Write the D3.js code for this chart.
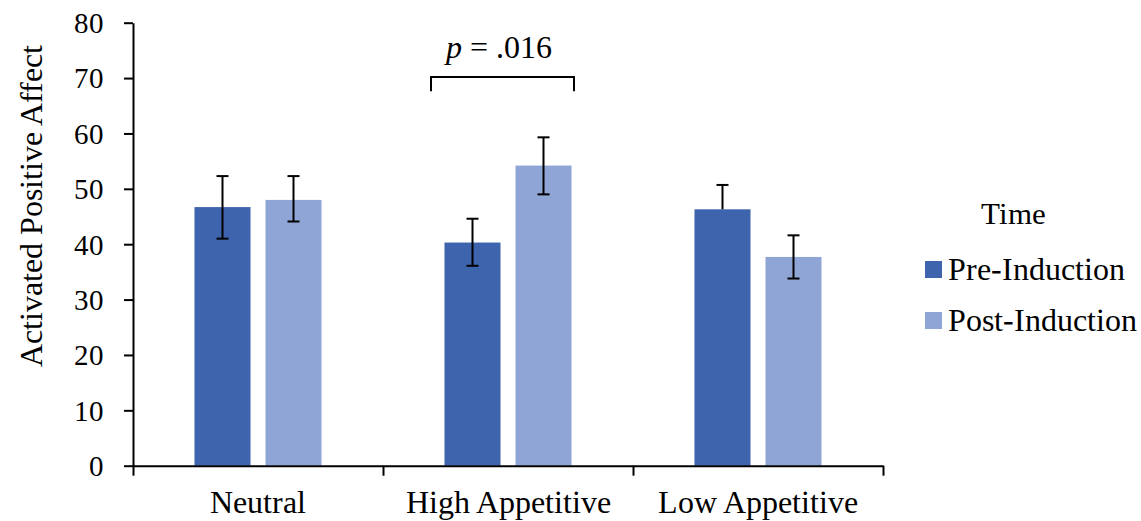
<!DOCTYPE html>
<html>
<head>
<meta charset="utf-8">
<script src="https://cdn.jsdelivr.net/npm/d3@7"></script>
<style>
  @font-face { font-family: "ChartSerif"; src: local("Liberation Serif"), local("LiberationSerif"); font-style: normal; }
  @font-face { font-family: "ChartSerif"; src: local("Liberation Serif Italic"), local("LiberationSerif-Italic"); font-style: italic; }
  #canvas text, #canvas tspan { font-family: "ChartSerif", "Liberation Serif", "Times New Roman", serif !important; }
</style>
</head>
<body style="margin:0">
<svg id="canvas" width="1141" height="521"></svg>
<script>
// data
const categories = ['Neutral', 'High Appetitive', 'Low Appetitive'];
const series = ['Pre-Induction', 'Post-Induction'];
const preValues = [46.7, 40.3, 46.3];
const postValues = [48.0, 54.2, 37.7];
const preErrUpper = [52.3, 44.6, 50.7];
const preErrLower = [41.0, 36.1, null];
const postErrUpper = [52.3, 59.3, 41.6];
const postErrLower = [44.1, 49.0, 33.8];
const yTicks = [0, 10, 20, 30, 40, 50, 60, 70, 80];
const colors = ['#3D64AD', '#8FA5D5'];

const fontFam = 'Liberation Serif';

let canvas = d3.select('#canvas');

let x0 = d3.scaleBand().domain(categories).range([133, 883]).padding(0);
let x1 = d3.scaleBand().domain(series).range([0, x0.bandwidth()])
  .paddingInner(0.211).paddingOuter(0.866);
let y = d3.scaleLinear().domain([0, 80]).range([465.7, 22.7]);

// rows for the bars
let rows = [];
categories.forEach((c, i) => {
  rows.push({cat: c, s: series[0], v: preValues[i], hi: preErrUpper[i], lo: preErrLower[i]});
  rows.push({cat: c, s: series[1], v: postValues[i], hi: postErrUpper[i], lo: postErrLower[i]});
});

// bars
canvas.append('g').selectAll('rect')
  .data(rows).enter().append('rect')
  .attr('x', d => x0(d.cat) + x1(d.s))
  .attr('y', d => y(d.v))
  .attr('width', x1.bandwidth())
  .attr('height', d => y(0) - y(d.v))
  .attr('fill', d => colors[series.indexOf(d.s)]);

// error bars
let eg = canvas.append('g').attr('stroke', '#000').attr('stroke-width', 2);
rows.forEach(d => {
  let cx = x0(d.cat) + x1(d.s) + x1.bandwidth() / 2;
  let lo = d.lo == null ? d.v : d.lo;
  eg.append('line').attr('x1', cx).attr('x2', cx).attr('y1', y(d.hi)).attr('y2', y(lo));
  eg.append('line').attr('x1', cx - 6).attr('x2', cx + 6).attr('y1', y(d.hi)).attr('y2', y(d.hi));
  if (d.lo != null)
    eg.append('line').attr('x1', cx - 6).attr('x2', cx + 6).attr('y1', y(d.lo)).attr('y2', y(d.lo));
});

// y axis
let yAxis = canvas.append('g')
  .attr('transform', 'translate(133,0)')
  .call(d3.axisLeft(y).tickValues(yTicks).tickSize(9).tickSizeOuter(0).tickPadding(20))
  .attr('font-family', fontFam);
yAxis.selectAll('text').attr('font-size', 29).attr('dy', '0.34em');
yAxis.selectAll('line, path').attr('stroke', '#000').attr('stroke-width', 2);

// x axis: line + boundary ticks
let xb = d3.scaleLinear().domain([0, categories.length]).range([133, 883]);
let xAxisB = canvas.append('g')
  .attr('transform', 'translate(0,' + y(0) + ')')
  .call(d3.axisBottom(xb).tickValues(d3.range(categories.length + 1)).tickSize(10).tickSizeOuter(0).tickFormat(''));
xAxisB.selectAll('line, path').attr('stroke', '#000').attr('stroke-width', 2);

let xAxisL = canvas.append('g')
  .attr('transform', 'translate(0,' + y(0) + ')')
  .call(d3.axisBottom(x0).tickSize(0).tickPadding(0))
  .attr('font-family', fontFam);
xAxisL.select('.domain').remove();
xAxisL.selectAll('text').attr('font-size', 31.5).attr('dy', null).attr('y', 47.6);

// y label
canvas.append('text')
  .attr('transform', 'translate(42,' + ((43 + 368) / 2) + ') rotate(-90)')
  .attr('text-anchor', 'middle')
  .attr('font-size', 32)
  .text('Activated Positive Affect');

// significance bracket
let bl = x0('High Appetitive') + 48, br = x0('High Appetitive') + 191;
canvas.append('path')
  .attr('d', `M${bl},${y(67.6)}V${y(70.2)}H${br}V${y(67.6)}`)
  .attr('fill', 'none').attr('stroke', '#000').attr('stroke-width', 2);
let pt = canvas.append('text')
  .attr('x', (bl + br) / 2 - 4).attr('y', y(73.7))
  .attr('text-anchor', 'middle').attr('font-size', 31.5);
pt.append('tspan').attr('font-style', 'italic').text('p');
pt.append('tspan').text(' = .016');

// legend
canvas.append('text').attr('x', 1013).attr('y', 224).attr('text-anchor', 'middle')
  .attr('font-size', 31).text('Time');
let lg = canvas.append('g').selectAll('g').data(series).enter().append('g')
  .attr('transform', (d, i) => 'translate(925,' + (261 + i * 51) + ')');
lg.append('rect').attr('width', 17).attr('height', 17).attr('fill', (d, i) => colors[i]);
lg.append('text').attr('x', 23).attr('y', 19).attr('font-size', 31.5).text(d => d);
</script>
</body>
</html>
